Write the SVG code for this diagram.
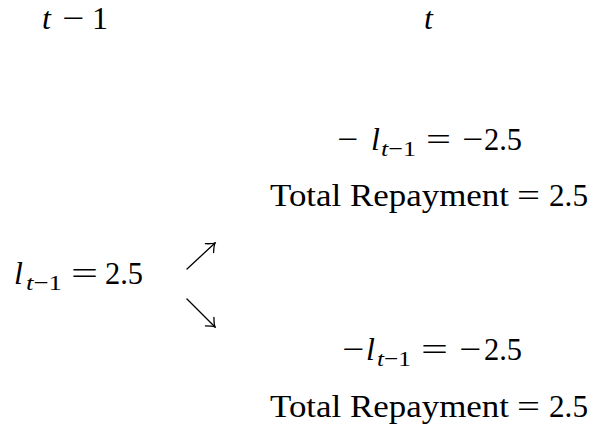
<svg xmlns="http://www.w3.org/2000/svg" width="592" height="446" viewBox="0 0 592 446">
<style>
text{font-family:"Liberation Serif","Times New Roman",serif;font-size:32px;fill:#000}
.i{font-style:italic}
.s{font-size:22px}
.arr{stroke:#000;stroke-width:1.3;fill:none;stroke-linecap:round}
</style>
<defs>
<marker id="hd" markerUnits="userSpaceOnUse" markerWidth="20" markerHeight="20" refX="10" refY="10" orient="auto" viewBox="0 0 20 20">
<path d="M2.5,4 Q7.5,9 10,10 Q7.5,11 2.5,16" stroke="#000" stroke-width="1.3" fill="none" stroke-linecap="round"/>
</marker>
</defs>
<rect width="592" height="446" fill="#fff"/>
<g id="header-prev">
<text x="42" y="29" class="i">t</text>
<text x="62" y="29" textLength="22" lengthAdjust="spacingAndGlyphs">−</text>
<text x="92" y="29">1</text>
</g>
<g id="header-curr">
<text x="424" y="29" class="i">t</text>
</g>
<g id="node-start">
<text x="14" y="284" class="i">l</text>
<text x="26" y="290" class="s" textLength="36" lengthAdjust="spacingAndGlyphs"><tspan class="i">t</tspan>−1</text>
<text x="71" y="284" textLength="27" lengthAdjust="spacingAndGlyphs">=</text>
<text x="105" y="284" textLength="38" lengthAdjust="spacingAndGlyphs">2.5</text>
</g>
<g id="node-up">
<text x="337" y="150" textLength="21" lengthAdjust="spacingAndGlyphs">−</text>
<text x="371" y="150" class="i">l</text>
<text x="381" y="156" class="s" textLength="35" lengthAdjust="spacingAndGlyphs"><tspan class="i">t</tspan>−1</text>
<text x="426" y="150" textLength="25" lengthAdjust="spacingAndGlyphs">=</text>
<text x="462" y="150" textLength="21" lengthAdjust="spacingAndGlyphs">−</text>
<text x="484" y="150" textLength="38" lengthAdjust="spacingAndGlyphs">2.5</text>
<text x="270" y="206" textLength="239" lengthAdjust="spacingAndGlyphs">Total Repayment</text>
<text x="517" y="206" textLength="23" lengthAdjust="spacingAndGlyphs">=</text>
<text x="549" y="206" textLength="39" lengthAdjust="spacingAndGlyphs">2.5</text>
</g>
<g id="node-down">
<text x="342" y="360" textLength="22" lengthAdjust="spacingAndGlyphs">−</text>
<text x="366" y="360" class="i">l</text>
<text x="377" y="366" class="s" textLength="34" lengthAdjust="spacingAndGlyphs"><tspan class="i">t</tspan>−1</text>
<text x="421" y="360" textLength="27" lengthAdjust="spacingAndGlyphs">=</text>
<text x="459" y="360" textLength="22" lengthAdjust="spacingAndGlyphs">−</text>
<text x="484" y="360" textLength="38" lengthAdjust="spacingAndGlyphs">2.5</text>
<text x="270" y="417" textLength="239" lengthAdjust="spacingAndGlyphs">Total Repayment</text>
<text x="517" y="417" textLength="23" lengthAdjust="spacingAndGlyphs">=</text>
<text x="549" y="417" textLength="39" lengthAdjust="spacingAndGlyphs">2.5</text>
</g>
<g id="connectors">
<line class="arr" x1="187" y1="269" x2="215" y2="243" marker-end="url(#hd)"/>
<line class="arr" x1="187" y1="299" x2="215" y2="327" marker-end="url(#hd)"/>
</g>
</svg>
